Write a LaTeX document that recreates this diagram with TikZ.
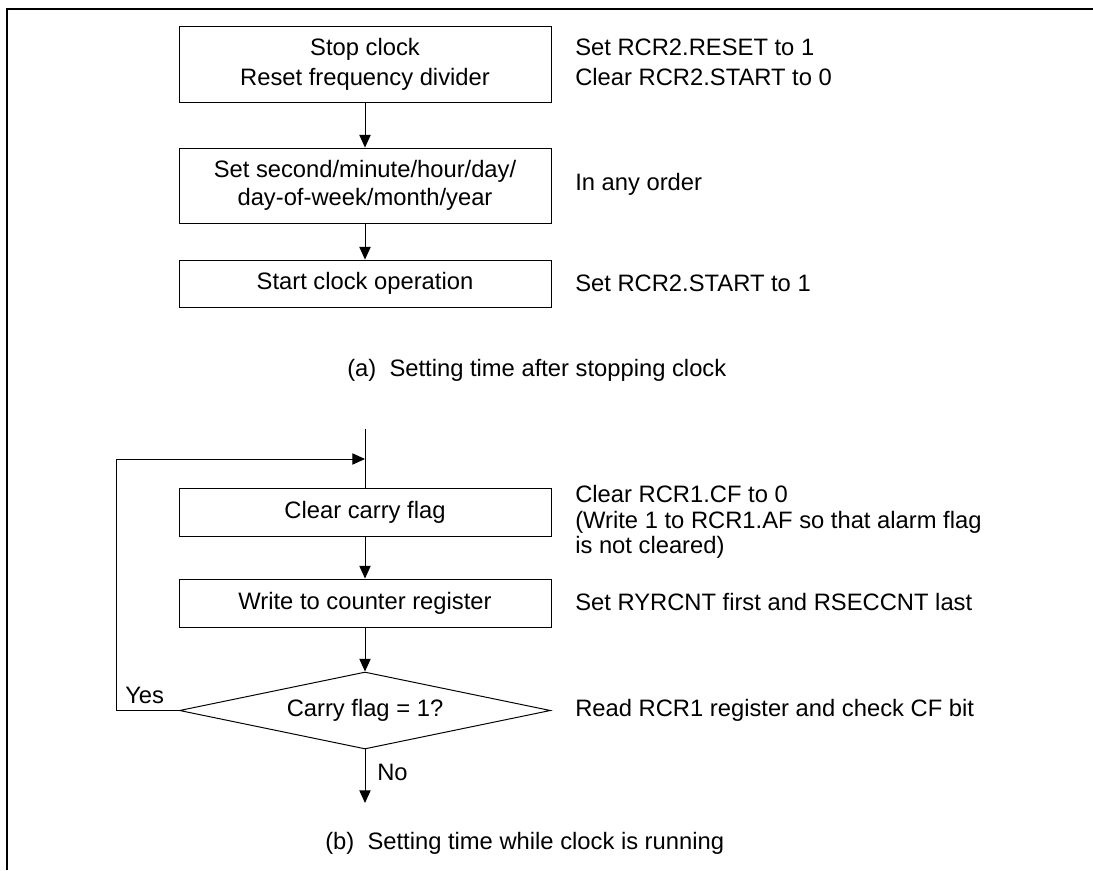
\documentclass[tikz,border=0pt]{standalone}
\usepackage{fontspec}
\setmainfont{Liberation Sans}
\usetikzlibrary{arrows.meta, positioning, shapes.geometric}

\begin{document}
\begin{tikzpicture}[font=\fontsize{16.9}{20}\selectfont,
    box/.style={draw, line width=0.7pt, minimum width=9.3cm, inner sep=0pt, align=center},
    decision/.style={draw, diamond, line width=0.7pt, aspect=4.8, minimum width=9.275cm, minimum height=1.925cm, inner sep=0pt},
    note/.style={anchor=west, inner sep=0pt, align=left},
    flow/.style={-{Triangle[length=9pt, width=8pt]}, line width=0.7pt},
    link/.style={line width=0.7pt}]
        \useasboundingbox (0,0) rectangle (27.325,21.75);
        \draw[line width=1.4pt] (0.175,0) -- (0.175,21.525) -- (27.4,21.525);

        % (a) clock stopped
        \node[box, minimum height=1.9cm, font=\fontsize{16.9}{21.3}\selectfont] (stop) at (9.125,20.15) {Stop clock\\Reset frequency divider};
        \node[box, minimum height=1.875cm] (setall) at (9.125,17.11) {Set second/minute/hour/day/\\day-of-week/month/year};
        \node[box, minimum height=1.175cm] (start) at (9.125,14.66) {Start clock operation};

        \node[note, font=\fontsize{16.9}{21.3}\selectfont] (nstop) at (14.375,20.2) {Set RCR2.RESET to 1\\Clear RCR2.START to 0};
        \node[note] (nset) at (14.375,17.15) {In any order};
        \node[note] (nstart) at (14.375,14.66) {Set RCR2.START to 1};

        \draw[flow] (stop.south) -- (setall.north);
        \draw[flow] (setall.south) -- (start.north);

        \node[note] (capa) at (8.675,12.5) {(a)\ \ Setting time after stopping clock};

        % (b) clock running
        \coordinate (entry) at (9.125,11.025);
        \coordinate (join) at (9.125,10.275);
        \node[box, minimum height=1.2cm] (clr) at (9.125,8.95) {Clear carry flag};
        \node[box, minimum height=1.2cm] (wr) at (9.125,6.675) {Write to counter register};
        \node[decision] (chk) at (9.125,3.9875) {Carry flag = 1?};
        \coordinate (done) at (9.125,1.675);
        \coordinate (lowleft) at (2.9,3.9875);
        \coordinate (upleft) at (2.9,10.275);

        \node[note, font=\fontsize{16.9}{18.2}\selectfont] (nclr) at (14.375,8.7) {Clear RCR1.CF to 0\\(Write 1 to RCR1.AF so that alarm flag\\is not cleared)};
        \node[note] (nwr) at (14.375,6.7) {Set RYRCNT first and RSECCNT last};
        \node[note] (nchk) at (14.375,3.9875) {Read RCR1 register and check CF bit};

        \draw[link] (entry) -- (clr.north);
        \draw[flow] (clr.south) -- (wr.north);
        \draw[flow] (wr.south) -- (chk.north);
        \draw[flow] (chk.west) -- (lowleft) -- (upleft) -- (join);
        \draw[flow] (chk.south) -- (done);

        \node[note] (yes) at (3.125,4.375) {Yes};
        \node[note] (no) at (9.425,2.45) {No};

        \node[note] (capb) at (8.125,0.675) {(b)\ \ Setting time while clock is running};
\end{tikzpicture}
\end{document}
